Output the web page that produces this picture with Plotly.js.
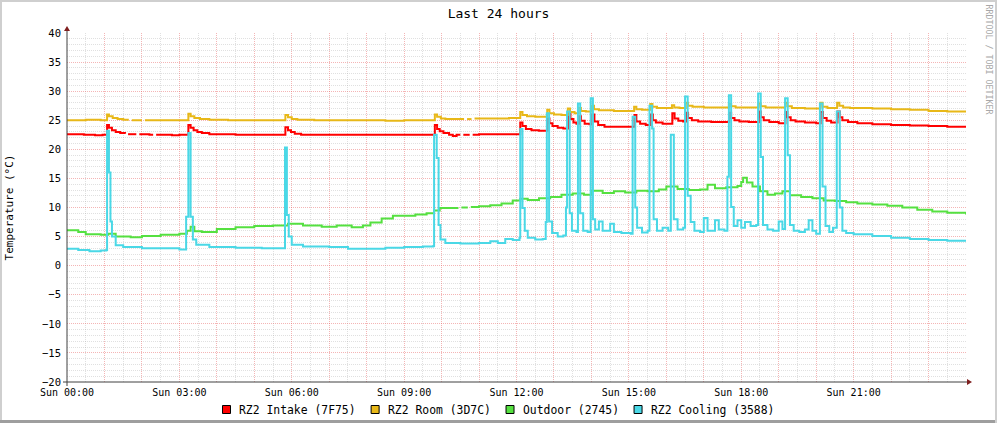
<!DOCTYPE html>
<html><head><meta charset="utf-8">
<script src="https://cdn.plot.ly/plotly-3.0.1.min.js"></script>
<style>html,body{margin:0;padding:0;background:#fff;}#chart{width:997px;height:423px;}</style>
</head><body><div id="chart"></div>
<script>
// ---------- data ----------
const seriesNames = ["RZ2 Intake (7F75)", "RZ2 Room (3D7C)", "Outdoor (2745)", "RZ2 Cooling (3588)"];
const seriesColors = ["#FF0000", "#E8B818", "#55E040", "#4AD8E6"];
const tickHours = [0, 3, 6, 9, 12, 15, 18, 21];
const tickLabels = ["Sun 00:00", "Sun 03:00", "Sun 06:00", "Sun 09:00", "Sun 12:00", "Sun 15:00", "Sun 18:00", "Sun 21:00"];

const intakeHours = [0,0.45,0.75,0.95,1.07,1.12,1.2,1.3,1.42,1.55,
1.57,1.63,1.85,1.87,1.93,2.2,2.3,2.32,2.38,2.8,
3.0,3.24,3.3,3.38,3.48,3.6,3.8,4.5,5.0,5.83,
5.9,5.98,6.08,6.25,6.6,7.5,8.5,9.82,9.88,9.95,
10.05,10.2,10.3,10.4,10.5,10.52,10.58,10.75,10.77,10.83,
11.0,11.5,12.1,12.16,12.25,12.4,12.6,12.83,12.88,12.96,
13.1,13.25,13.38,13.44,13.52,13.6,13.67,13.72,13.82,13.95,
14.02,14.08,14.18,14.35,15.15,15.2,15.3,15.45,15.58,15.64,
15.72,15.9,16.16,16.22,16.32,16.45,16.53,16.58,16.68,16.85,
17.2,17.68,17.73,17.82,17.95,18.2,18.47,18.52,18.6,18.75,
19.0,19.18,19.23,19.32,19.45,19.7,20.0,20.12,20.18,20.28,
20.4,20.57,20.63,20.7,20.85,21.1,21.5,22.0,22.5,23.0,
23.5,24.0];
const intakeTemps = [22.6,22.5,22.4,22.5,24.2,23.7,23.3,23.0,22.8,22.7,
null,22.6,22.6,null,22.6,22.5,22.5,null,22.5,22.4,
22.5,24.2,23.7,23.3,23.0,22.8,22.6,22.5,22.5,23.8,
23.3,23.0,22.7,22.5,22.5,22.5,22.5,24.2,23.5,23.1,
22.8,22.5,22.3,22.5,22.5,null,22.5,22.5,null,22.5,
22.6,22.6,24.6,24.0,23.5,23.3,23.2,25.3,24.5,24.0,
23.7,23.6,26.2,25.2,24.6,24.4,25.7,24.9,24.4,24.3,
26.0,24.8,24.2,23.9,25.9,24.8,24.4,24.2,26.0,25.0,
24.6,24.4,26.2,25.3,24.9,24.8,26.3,25.4,25.0,24.8,
24.7,26.3,25.4,25.0,24.8,24.7,26.5,25.5,25.0,24.7,
24.5,26.4,25.5,25.0,24.8,24.6,24.5,26.4,25.4,24.9,
24.6,26.5,25.5,25.0,24.7,24.5,24.3,24.2,24.1,24.0,
23.9,23.9];

const roomHours = [0,0.5,0.9,1.07,1.12,1.22,1.35,1.5,1.65,1.67,
1.73,2.0,2.02,2.08,2.5,3.24,3.3,3.4,3.55,3.8,
4.3,5.83,5.9,6.0,6.15,6.6,7.5,8.5,9.0,9.82,
9.88,9.98,10.1,10.5,10.6,10.62,10.68,10.8,10.82,10.88,
11.2,11.8,12.1,12.16,12.28,12.5,12.82,12.88,13.0,13.2,
13.37,13.43,13.55,13.66,13.72,13.85,14.01,14.07,14.2,14.6,
15.14,15.2,15.35,15.57,15.63,15.75,16.15,16.21,16.35,16.52,
16.58,16.7,17.0,17.67,17.73,17.85,18.46,18.52,18.65,19.17,
19.23,19.35,19.7,20.11,20.17,20.3,20.56,20.62,20.72,20.9,
21.5,22.0,22.5,23.0,23.5,24.0];
const roomTemps = [25.0,25.1,25.0,26.0,25.7,25.4,25.2,25.1,25.1,null,
25.0,25.0,null,25.0,25.0,26.1,25.7,25.4,25.2,25.1,
25.0,25.9,25.5,25.2,25.1,25.0,25.0,24.9,25.0,26.0,
25.6,25.3,25.2,25.2,25.2,null,25.2,25.2,null,25.3,
25.3,25.4,26.4,25.9,25.7,25.6,26.8,26.2,26.0,25.9,
27.0,26.4,26.2,27.1,26.6,26.5,27.5,26.9,26.7,26.6,
27.3,26.9,26.8,27.8,27.3,27.1,27.6,27.2,27.1,28.0,
27.5,27.3,27.2,27.8,27.4,27.2,27.9,27.4,27.2,28.0,
27.4,27.1,27.0,28.0,27.3,27.1,28.0,27.5,27.2,27.1,
27.0,26.9,26.8,26.6,26.5,26.4];

const outdoorHours = [0,0.3,0.5,0.9,1.1,1.3,1.7,2.0,2.5,3.0,
3.2,3.3,3.4,3.6,4.0,4.5,5.0,5.5,5.9,6.3,
6.8,7.2,7.6,7.9,8.1,8.4,8.7,9.0,9.3,9.6,
9.8,9.95,10.3,10.45,10.47,10.53,10.7,10.72,10.78,11.0,
11.3,11.6,11.9,12.1,12.3,12.6,12.9,13.2,13.5,13.8,
14.0,14.3,14.6,14.9,15.2,15.5,15.8,16.0,16.3,16.6,
16.9,17.1,17.3,17.6,17.9,18.0,18.05,18.15,18.3,18.5,
18.7,18.9,19.1,19.3,19.6,19.9,20.2,20.5,20.8,21.1,
21.5,21.9,22.3,22.7,23.1,23.5,24.0];
const outdoorTemps = [6.1,5.8,5.4,5.3,5.5,5.0,4.9,5.1,5.3,5.5,
6.0,6.7,5.9,5.8,6.3,6.6,6.8,6.9,7.2,6.9,
6.7,6.9,6.6,6.9,7.4,8.1,8.6,8.6,8.8,9.0,
9.5,9.9,9.9,9.9,null,10.0,10.0,null,10.1,10.2,
10.4,10.7,11.2,11.5,11.3,11.6,11.8,12.2,12.4,12.2,
12.9,12.5,12.8,12.6,12.9,12.8,13.1,13.6,13.2,13.0,
13.1,13.9,13.3,13.5,13.7,14.4,15.1,14.3,13.6,12.8,
12.2,12.4,12.8,12.1,11.8,11.6,11.2,11.1,10.9,10.7,
10.5,10.3,10.0,9.6,9.3,9.1,8.8];

const coolingHours = [0,0.3,0.6,0.9,1.05,1.07,1.12,1.16,1.2,1.3,
1.5,2.0,2.5,3.0,3.18,3.24,3.3,3.36,3.45,3.8,
4.5,5.2,5.8,5.82,5.87,5.92,6.0,6.3,7.0,7.5,
8.0,8.5,9.0,9.5,9.78,9.8,9.87,9.92,9.97,10.1,
10.5,11.0,11.3,11.5,11.7,11.9,12.08,12.1,12.16,12.22,
12.3,12.5,12.7,12.78,12.81,12.87,12.95,13.1,13.25,13.32,
13.35,13.42,13.48,13.6,13.64,13.7,13.78,13.9,13.98,14.04,
14.1,14.2,14.3,14.5,14.6,14.8,15.05,15.1,15.17,15.22,
15.35,15.5,15.55,15.62,15.66,15.75,15.9,16.05,16.12,16.2,
16.3,16.45,16.5,16.57,16.65,16.75,16.9,17.0,17.1,17.25,
17.3,17.4,17.55,17.63,17.67,17.73,17.8,17.9,18.0,18.1,
18.25,18.4,18.45,18.52,18.58,18.7,18.85,19.0,19.1,19.17,
19.24,19.3,19.4,19.55,19.7,19.8,19.9,20.0,20.1,20.17,
20.25,20.35,20.45,20.55,20.63,20.7,20.8,21.0,21.5,22.0,
22.5,23.0,23.5,24.0];
const coolingTemps = [2.9,2.7,2.5,2.6,2.7,23.2,16.0,7.6,5.0,3.5,
3.2,3.0,3.0,2.8,8.4,22.8,8.4,4.5,3.6,3.2,
3.1,3.0,3.0,20.3,8.7,5.0,3.6,3.3,3.2,2.9,
2.9,3.1,3.2,3.3,3.4,22.5,18.5,7.0,4.5,3.9,
3.8,3.9,4.2,3.9,4.6,4.4,4.8,23.5,9.9,6.0,
4.8,4.5,4.6,7.5,26.2,7.6,5.6,5.0,5.2,10.0,
26.5,9.0,6.0,5.8,27.9,9.0,6.0,5.8,28.8,8.0,
6.2,7.6,6.0,7.2,5.8,5.6,5.5,25.6,10.0,6.5,
5.7,6.0,27.5,23.6,8.0,6.0,6.5,6.0,22.5,8.0,
6.2,6.5,29.1,12.0,7.5,6.0,5.8,8.2,6.0,6.0,
7.8,6.2,6.0,15.3,29.3,10.1,6.8,7.8,6.5,7.5,
6.8,7.0,29.6,18.7,7.0,6.2,6.0,7.6,6.3,28.8,
19.0,7.0,6.0,5.8,6.2,7.8,6.0,5.5,27.9,13.6,
6.8,5.8,6.5,26.5,10.0,6.0,5.6,5.4,5.1,4.8,
4.6,4.4,4.3,4.1];

// ---------- figure ----------
const W = 997, H = 423;
const L = 67, R = 966, T = 33, B = 382;
const px = x => (x - L) / (R - L);
const py = y => (B - y) / (B - T);
const FONT = "DejaVu Sans Mono, monospace";

const xs = [intakeHours, roomHours, outdoorHours, coolingHours];
const ys = [intakeTemps, roomTemps, outdoorTemps, coolingTemps];
const traces = seriesNames.map((n, i) => ({
  type: "scatter", mode: "lines", name: n,
  x: xs[i], y: ys[i],
  line: {color: seriesColors[i], width: 2, shape: "hv"},
  connectgaps: false, showlegend: false, hoverinfo: "skip"
}));

// grid positions
const gridHours = [], gridText = [], halfHours = [];
for (let h = 0; h <= 24; h++) {
  gridHours.push(h);
  const k = tickHours.indexOf(h);
  gridText.push(k >= 0 ? tickLabels[k] : "");
  if (h < 24) halfHours.push(h + 0.5);
}
const minorTemps = [];
for (let v = -20; v <= 40; v++) if (v % 5 !== 0) minorTemps.push(v);

const shapes = [];
const annotations = [];

// frame shading
shapes.push({type: "line", xref: "paper", yref: "paper", x0: px(0), x1: px(W), y0: py(1), y1: py(1), line: {color: "#CFCFCF", width: 2}});
shapes.push({type: "line", xref: "paper", yref: "paper", x0: px(1), x1: px(1), y0: py(0), y1: py(H), line: {color: "#CFCFCF", width: 2}});
shapes.push({type: "line", xref: "paper", yref: "paper", x0: px(0), x1: px(W), y0: py(H - 1.5), y1: py(H - 1.5), line: {color: "#9E9E9E", width: 3}});
shapes.push({type: "line", xref: "paper", yref: "paper", x0: px(W - 1), x1: px(W - 1), y0: py(0), y1: py(H), line: {color: "#CFCFCF", width: 2}});

// axes with arrows
shapes.push({type: "line", xref: "paper", yref: "paper", x0: px(63), x1: px(969), y0: py(382), y1: py(382), line: {color: "#404040", width: 1}});
shapes.push({type: "line", xref: "paper", yref: "paper", x0: px(67), x1: px(67), y0: py(386), y1: py(29), line: {color: "#404040", width: 1}});
shapes.push({type: "path", xref: "paper", yref: "paper",
  path: `M ${px(64)} ${py(31)} L ${px(70)} ${py(31)} L ${px(67)} ${py(26)} Z`,
  fillcolor: "#7F1F1F", line: {width: 0}});
shapes.push({type: "path", xref: "paper", yref: "paper",
  path: `M ${px(967)} ${py(379)} L ${px(967)} ${py(385)} L ${px(972)} ${py(382)} Z`,
  fillcolor: "#7F1F1F", line: {width: 0}});

// legend (swatches + text)
const legendCharW = 6.86;
let lx = 222;
seriesNames.forEach((n, i) => {
  shapes.push({type: "rect", xref: "paper", yref: "paper",
    x0: px(lx + 0.5), x1: px(lx + 8.5), y0: py(413.5), y1: py(405.5),
    fillcolor: seriesColors[i], line: {color: "#000", width: 1}});
  annotations.push({xref: "paper", yref: "paper", x: px(lx + 15), y: py(409.5),
    xanchor: "left", yanchor: "middle", showarrow: false, text: n,
    font: {family: FONT, size: 11.4, color: "#000"}});
  lx += 15 + n.length * legendCharW + 17;
});

// watermark
annotations.push({xref: "paper", yref: "paper", x: px(988.5), y: py(60),
  xanchor: "center", yanchor: "middle", showarrow: false, textangle: 90,
  text: "RRDTOOL / TOBI OETIKER", font: {family: FONT, size: 8.3, color: "#A8A8A8"}});

const majorGrid = "rgba(230,90,90,0.45)";
const minorGrid = "rgba(160,160,160,0.32)";

const layout = {
  width: W, height: H,
  paper_bgcolor: "#FFFFFF", plot_bgcolor: "#FFFFFF",
  margin: {l: L, r: W - R, t: T, b: H - B, pad: 0},
  showlegend: false,
  font: {family: FONT, size: 10, color: "#000"},
  title: {text: "Last 24 hours", font: {family: FONT, size: 13, color: "#000"},
    xref: "container", yref: "container", x: 0.5, xanchor: "center", y: 1 - 13 / H, yanchor: "middle"},
  xaxis: {
    range: [0, 24], tickmode: "array", tickvals: gridHours, ticktext: gridText,
    showgrid: true, gridcolor: majorGrid, gridwidth: 1, griddash: "1px,1px",
    minor: {tickmode: "array", tickvals: halfHours, showgrid: true, gridcolor: minorGrid, gridwidth: 1, griddash: "1px,1px", ticks: ""},
    ticks: "", zeroline: false, showline: false, ticklabelstandoff: 3,
    tickfont: {family: FONT, size: 10, color: "#000"}, fixedrange: true
  },
  yaxis: {
    range: [-20, 40], tickmode: "linear", tick0: 0, dtick: 5,
    showgrid: true, gridcolor: majorGrid, gridwidth: 1, griddash: "1px,1px",
    minor: {tickmode: "array", tickvals: minorTemps, showgrid: true, gridcolor: minorGrid, gridwidth: 1, griddash: "1px,1px", ticks: ""},
    ticks: "", zeroline: false, showline: false, ticklabelstandoff: 5,
    tickfont: {family: FONT, size: 10.5, color: "#000"},
    title: {text: "Temperature (°C)", font: {family: FONT, size: 11, color: "#000"}, standoff: 26},
    fixedrange: true
  },
  shapes: shapes,
  annotations: annotations
};

Plotly.newPlot("chart", traces, layout, {displayModeBar: false, staticPlot: true});
</script>
</body></html>
